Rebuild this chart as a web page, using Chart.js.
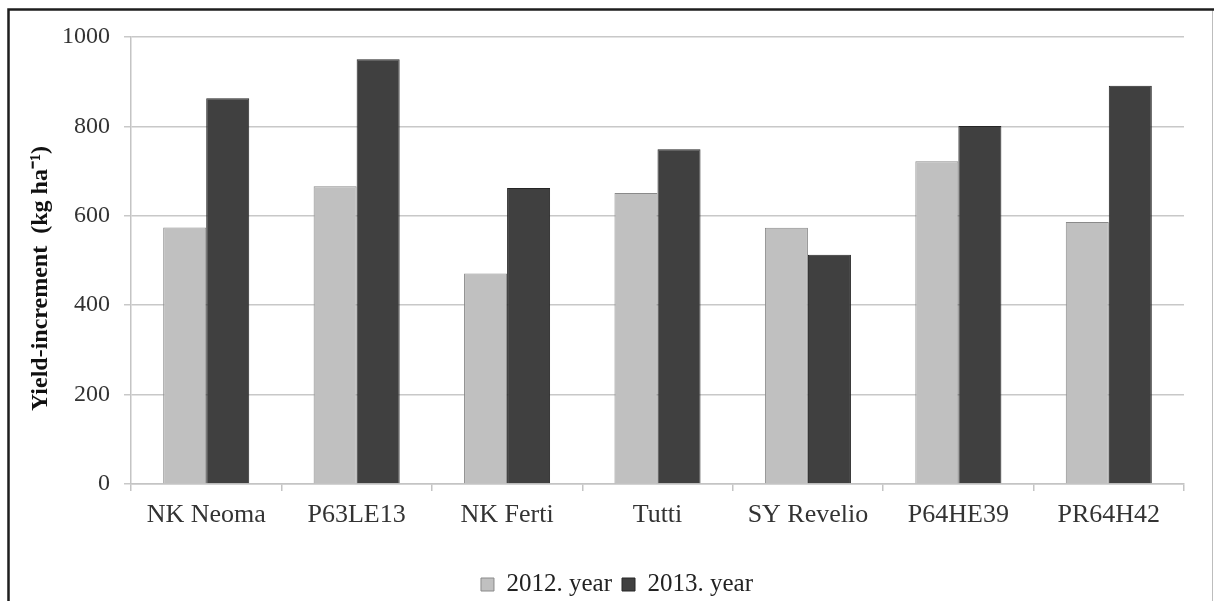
<!DOCTYPE html>
<html>
<head>
<meta charset="utf-8">
<script src="https://cdn.jsdelivr.net/npm/chart.js@4/dist/chart.umd.min.js"></script>
<style>
  html, body { margin: 0; padding: 0; background: #fff; }
  #wrap { width: 1214px; height: 601px; position: relative; }
</style>
</head>
<body>
<div id="wrap"><canvas id="yieldChart" width="1214" height="601"></canvas></div>
<script>
// Hybrids and yield increment per year (kg/ha)
const hybrids = ['NK Neoma', 'P63LE13', 'NK Ferti', 'Tutti', 'SY Revelio', 'P64HE39', 'PR64H42'];
const year2012 = [574, 666, 471, 651, 573, 722, 586];
const year2013 = [863, 950, 662, 749, 513, 801, 891];
const yTicks = [0, 200, 400, 600, 800, 1000];

const serif = "'Liberation Serif', 'Times New Roman', serif";

// white background plus the frame lines round the figure
const framePlugin = {
	id: 'frame',
	beforeDraw(chart) {
		const { ctx, width, height } = chart;
		ctx.save();
		ctx.fillStyle = '#fff';
		ctx.fillRect(0, 0, width, height);
		ctx.strokeStyle = '#bdbdbd';
		ctx.lineWidth = 1;
		ctx.beginPath();
		ctx.moveTo(width - 1.5, 9);
		ctx.lineTo(width - 1.5, height);
		ctx.stroke();
		ctx.strokeStyle = '#1e1e1e';
		ctx.lineWidth = 2.5;
		ctx.beginPath();
		ctx.moveTo(8.5, height);
		ctx.lineTo(8.5, 9.5);
		ctx.lineTo(width, 9.5);
		ctx.stroke();
		ctx.restore();
	}
};

new Chart(document.getElementById('yieldChart'), {
	type: 'bar',
	data: {
		labels: hybrids,
		datasets: [
			{
				label: '2012. year',
				data: year2012,
				backgroundColor: '#c0c0c0',
				borderColor: '#8a8a8a',
				borderWidth: 1
			},
			{
				label: '2013. year',
				data: year2013,
				backgroundColor: '#404040',
				borderColor: '#262626',
				borderWidth: 1
			}
		]
	},
	options: {
		responsive: false,
		animation: false,
		layout: { padding: { left: 50, right: 30, top: 37, bottom: -6 } },
		datasets: { bar: { categoryPercentage: 0.572, barPercentage: 1 } },
		scales: {
			x: {
				grid: { offset: true, drawOnChartArea: false, drawTicks: true, tickLength: 7, color: '#c4c4c4', lineWidth: 1.5 },
				border: { color: '#c4c4c4', width: 1.5 },
				ticks: { color: '#333', padding: 9, font: { family: serif, size: 26 } },
				afterFit(scale) { scale.height = 78; }
			},
			y: {
				min: 0,
				max: 1000,
				afterBuildTicks(scale) { scale.ticks = yTicks.map(v => ({ value: v })); },
				grid: { color: '#c8c8c8', lineWidth: 1.5, tickLength: 7 },
				border: { color: '#c4c4c4', width: 1.5 },
				ticks: {
					color: '#333',
					padding: 14,
					font: { family: serif, size: 24 },
					callback: v => String(v)
				},
				title: {
					display: true,
					// trailing spaces push the rotated text a little further down
					text: 'Yield-increment  (kg ha\u207B\u00B9)      ',
					color: '#111',
					font: { family: serif, size: 24, weight: 'bold' },
					padding: { top: -24, bottom: 0 }
				},
				afterFit(scale) { scale.width = 81; }
			}
		},
		plugins: {
			legend: {
				position: 'bottom',
				labels: {
					color: '#222',
					boxWidth: 13,
					boxHeight: 13,
					padding: 10,
					font: { family: serif, size: 25 }
				}
			},
			tooltip: { enabled: false }
		}
	},
	plugins: [framePlugin]
});
</script>
</body>
</html>
